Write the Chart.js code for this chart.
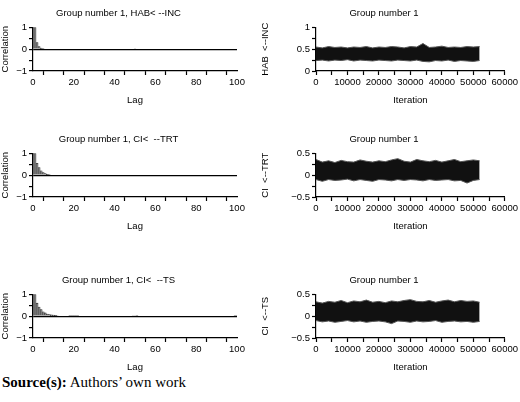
<!DOCTYPE html>
<html>
<head>
<meta charset="utf-8">
<script src="https://cdn.jsdelivr.net/npm/chart.js@4/dist/chart.umd.min.js"></script>
<style>
  body { margin: 0; background: #fff; width: 520px; height: 402px; position: relative; overflow: hidden; }
  .box { position: absolute; }
  #src { position: absolute; left: 2px; top: 374px; font: 15px "Liberation Serif", serif; color: #000; }
</style>
</head>
<body>
<div class="box" style="left:0;top:0;width:250px;height:106px"><canvas id="acf1"></canvas></div>
<div class="box" style="left:260px;top:0;width:260px;height:106px"><canvas id="tr1"></canvas></div>
<div class="box" style="left:0;top:126px;width:250px;height:106px"><canvas id="acf2"></canvas></div>
<div class="box" style="left:260px;top:126px;width:260px;height:106px"><canvas id="tr2"></canvas></div>
<div class="box" style="left:0;top:267px;width:250px;height:106px"><canvas id="acf3"></canvas></div>
<div class="box" style="left:260px;top:267px;width:260px;height:106px"><canvas id="tr3"></canvas></div>
<div id="src"><b>Source(s):</b> Authors’ own work</div>
<script>
// === autocorrelation (lags with visible bars) ===
const acfLags1 = [0, 1, 2, 3, 4, 5, 50];
const acfVals1 = [1, 1, 0.3, 0.12, 0.05, 0.02, 0.03];
const acfLags2 = [0, 1, 2, 3, 4, 5, 6, 7, 8];
const acfVals2 = [1, 1, 0.55, 0.35, 0.2, 0.12, 0.07, 0.04, 0.02];
const acfLags3 = [0, 1, 2, 3, 4, 5, 6, 7, 8, 9, 10, 11, 12, 18, 19, 20, 21, 22, 49, 50, 51, 99, 100];
const acfVals3 = [1, 1, 0.6, 0.42, 0.3, 0.2, 0.15, 0.1, 0.08, 0.06, 0.05, 0.04, 0.03, 0.02, 0.02, 0.02, 0.02, 0.02, 0.03, 0.03, 0.02, 0.02, 0.02];

// === trace envelopes (upper / lower edge of the sample band) ===
const iters = [0, 2000, 4000, 6000, 8000, 10000, 12000, 14000, 16000, 18000, 20000, 22000, 24000, 26000,
  28000, 30000, 32000, 34000, 36000, 38000, 40000, 42000, 44000, 46000, 48000, 50000, 52000];
const hi1 = [0.55, 0.53, 0.56, 0.54, 0.55, 0.53, 0.55, 0.54, 0.56, 0.53, 0.55, 0.54, 0.56, 0.55, 0.53,
  0.56, 0.55, 0.63, 0.54, 0.55, 0.57, 0.54, 0.55, 0.54, 0.56, 0.55, 0.56];
const lo1 = [0.24, 0.25, 0.23, 0.25, 0.24, 0.26, 0.23, 0.25, 0.24, 0.23, 0.25, 0.24, 0.23, 0.25, 0.24,
  0.23, 0.25, 0.22, 0.21, 0.24, 0.23, 0.25, 0.22, 0.24, 0.23, 0.22, 0.24];
const hi2 = [0.36, 0.3, 0.33, 0.29, 0.34, 0.31, 0.3, 0.35, 0.32, 0.3, 0.33, 0.31, 0.35, 0.38, 0.32,
  0.3, 0.36, 0.33, 0.31, 0.34, 0.3, 0.33, 0.36, 0.31, 0.33, 0.35, 0.33];
const lo2 = [-0.1, -0.14, -0.1, -0.12, -0.11, -0.09, -0.13, -0.1, -0.12, -0.14, -0.1, -0.11, -0.13, -0.1,
  -0.12, -0.1, -0.11, -0.13, -0.1, -0.12, -0.11, -0.1, -0.13, -0.12, -0.18, -0.12, -0.1];
const hi3 = [0.33, 0.3, 0.34, 0.32, 0.36, 0.31, 0.35, 0.33, 0.37, 0.32, 0.34, 0.31, 0.35, 0.33, 0.36,
  0.38, 0.34, 0.33, 0.36, 0.32, 0.35, 0.37, 0.33, 0.36, 0.34, 0.35, 0.32];
const lo3 = [-0.1, -0.13, -0.11, -0.14, -0.12, -0.1, -0.13, -0.11, -0.14, -0.12, -0.11, -0.13, -0.17, -0.11,
  -0.12, -0.14, -0.11, -0.13, -0.12, -0.1, -0.14, -0.12, -0.11, -0.13, -0.12, -0.14, -0.12];

const FONT = { family: "'Liberation Sans', Arial, sans-serif", size: 9.5, weight: 'normal' };
Chart.defaults.color = '#000';
Chart.defaults.font = FONT;
Chart.defaults.animation = false;

const fmt = v => (v < 0 ? '\u2212' : '') + Math.abs(v);

function axisGrid() {
  return { drawOnChartArea: false, drawTicks: true, tickLength: 4, tickColor: '#000', tickWidth: 1.2 };
}

function makeAcf(id, title, lags, vals) {
  new Chart(document.getElementById(id), {
    type: 'bar',
    data: {
      datasets: [{
        data: lags.map((x, i) => ({ x: x, y: vals[i] })),
        backgroundColor: '#888', borderColor: '#222', borderWidth: 0.6,
        barPercentage: 1, categoryPercentage: 1
      }]
    },
    options: {
      responsive: true, maintainAspectRatio: false,
      layout: { padding: { left: 0, right: 13, top: 6, bottom: 0 } },
      plugins: { legend: { display: false }, tooltip: { enabled: false },
        title: { display: true, text: title, font: FONT, padding: { top: 2, bottom: 8 } } },
      scales: {
        x: { type: 'linear', min: 0, max: 100, offset: false,
          ticks: { stepSize: 10, padding: 2, maxRotation: 0, autoSkip: false, callback: v => (v % 20 === 0 ? v : '') },
          grid: axisGrid(), border: { color: '#000', width: 1.2 },
          title: { display: true, text: 'Lag', font: FONT, padding: 0 },
          afterFit: s => { s.height = 35; } },
        y: { min: -1, max: 1,
          ticks: { stepSize: 0.5, padding: 2, autoSkip: false, callback: v => (Number.isInteger(v) ? fmt(v) : '') },
          grid: { drawOnChartArea: true, drawTicks: true, tickLength: 4, tickColor: '#000',
            color: c => (c.tick && c.tick.value === 0 ? '#000' : 'rgba(0,0,0,0)'), lineWidth: 1.2 },
          border: { color: '#000', width: 1.2 },
          title: { display: true, text: 'Correlation', font: FONT, padding: 0 },
          afterFit: s => { s.width = 33; } }
      }
    }
  });
}

function makeTrace(id, ylabel, hi, lo, ymin, ymax) {
  new Chart(document.getElementById(id), {
    type: 'line',
    data: {
      labels: iters,
      datasets: [
        { data: hi, borderColor: '#555', borderWidth: 1, pointRadius: 0, fill: false, tension: 0 },
        { data: lo, borderColor: '#555', borderWidth: 1, pointRadius: 0, fill: '-1', backgroundColor: '#111', tension: 0 }
      ]
    },
    options: {
      responsive: true, maintainAspectRatio: false,
      layout: { padding: { left: 0, right: 12, top: 6, bottom: 0 } },
      plugins: { legend: { display: false }, tooltip: { enabled: false },
        title: { display: true, text: 'Group number 1', font: FONT, padding: { top: 2, bottom: 8 } } },
      scales: {
        x: { type: 'linear', min: 0, max: 60000,
          ticks: { stepSize: 5000, padding: 2, maxRotation: 0, autoSkip: false, callback: v => (v % 10000 === 0 ? v : '') },
          grid: axisGrid(), border: { color: '#000', width: 1.2 },
          title: { display: true, text: 'Iteration', font: FONT, padding: 0 },
          afterFit: s => { s.height = 35; } },
        y: { min: ymin, max: ymax,
          ticks: { stepSize: 0.25, padding: 2, autoSkip: false, callback: v => (v % 0.5 === 0 ? fmt(v) : '') },
          grid: axisGrid(), border: { color: '#000', width: 1.2 },
          title: { display: true, text: ylabel, font: FONT, padding: 0 },
          afterFit: s => { s.width = 56; } }
      }
    }
  });
}

makeAcf('acf1', 'Group number 1, HAB< --INC', acfLags1, acfVals1);
makeAcf('acf2', 'Group number 1, CI<  --TRT', acfLags2, acfVals2);
makeAcf('acf3', 'Group number 1, CI<  --TS', acfLags3, acfVals3);
makeTrace('tr1', 'HAB  <--INC', hi1, lo1, 0, 1);
makeTrace('tr2', 'CI  <--TRT', hi2, lo2, -0.5, 0.5);
makeTrace('tr3', 'CI  <--TS', hi3, lo3, -0.5, 0.5);
</script>
</body>
</html>
